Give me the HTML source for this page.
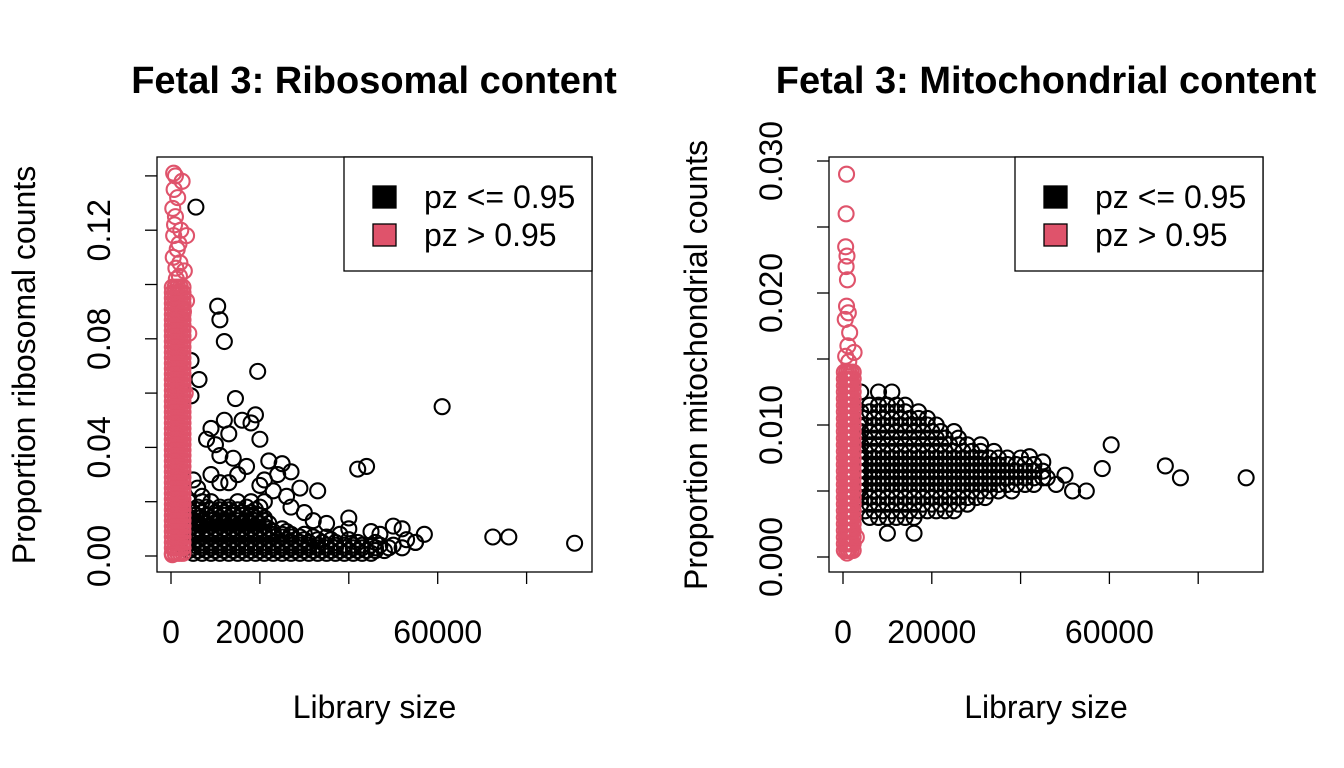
<!DOCTYPE html>
<html><head><meta charset="utf-8">
<style>
html,body{margin:0;padding:0;background:#fff;}
svg{display:block;font-family:"Liberation Sans",sans-serif;}
</style></head>
<body>
<svg id="chart" width="1344" height="768" viewBox="0 0 1344 768"></svg>
<script>
// ---------- DATA ----------
// Library size in thousands; rows: [proportion, [library sizes (k)...]]
const ribBlackRows = [
 [0.001,[5,7,9,11,13,15,17,19,21,23,25,27,29,31,33,35,37,39,41,43,45]],
 [0.002,[4,6,8,10,12,14,16,18,20,22,24,26,28,30,32,34,36,38,40,42,44,46,48]],
 [0.003,[3.2,5,7,9,11,13,15,17,19,21,23,25,27,29,31,33,35,37,39,41,43,46,49,52]],
 [0.004,[3.5,5,7,9,11,13,15,17,19,21,23,25,27,29,31,33,35,37,39,41,43,45,47,50]],
 [0.005,[3,5,7,9,11,13,15,17,19,21,23,25,27,29,31,34,37,42,46,55]],
 [0.006,[4,6,8,10,12,14,16,18,20,22,24,26,28,30,33,36,40]],
 [0.007,[3,5,7,9,11,13,15,17,19,21,23,25,27,29,32,35]],
 [0.008,[3.8,5.5,7,9,11,13,15,17,19,21,23,25,27,30]],
 [0.009,[3,5,7,9,11,13,15,17,19,21,23,26]],
 [0.010,[4,6,8,10,12,14,16,18,20,22,25]],
 [0.011,[3,5,7,9,11,13,15,17,19,21]],
 [0.012,[4,5.5,7.5,9.5,11.5,13.5,15.5,17.5,19.5,22]],
 [0.013,[3,5,7,9,11,13,15,17,19,21]],
 [0.014,[4.5,6.5,9,11,13,15,17,19,21]],
 [0.015,[3,5.5,8,10,12,14,16,18,20]],
 [0.016,[5,7,10,12,14,16,18]],
 [0.017,[4,6,9,11,13,15,19]],
 [0.018,[6,8,11,13,17,20]],
 [0.020,[4,7,9,15,18,21]]
];
const ribBlackX = [5.6,10.5,11,12,4.5,6.3,4.5,19.5,14.5,12,16,18,19,20,13,9,8,10,11,14,22,25,27,24,21,17,15,13,29,33,42,44,61,72.4,76,90.8,57,55,52,50,53,47,45,40,38,35,26,23,6,5,9,11,7,20,27,30,32,40];
const ribBlackY = [0.1285,0.092,0.087,0.079,0.072,0.065,0.059,0.068,0.058,0.05,0.05,0.049,0.052,0.043,0.045,0.047,0.043,0.041,0.037,0.036,0.035,0.034,0.031,0.03,0.028,0.033,0.03,0.027,0.025,0.024,0.032,0.033,0.055,0.007,0.007,0.0047,0.008,0.005,0.01,0.011,0.006,0.008,0.009,0.014,0.008,0.012,0.022,0.024,0.025,0.028,0.03,0.027,0.022,0.026,0.018,0.016,0.013,0.01];
const ribRedYs = [0.001,0.003,0.005,0.007,0.009,0.011,0.013,0.015,0.017,0.019,0.021,0.023,0.025,0.027,0.029,0.031,0.033,0.035,0.037,0.039,0.041,0.043,0.045,0.047,0.049,0.051,0.053,0.055,0.057,0.059,0.061,0.063,0.065,0.067,0.069,0.071,0.073,0.075,0.077,0.079,0.081,0.083,0.085,0.087,0.089,0.091,0.093,0.095,0.097,0.099];
const ribRedXs = [0.3,0.9,1.5,2.1,2.7];
const ribRedX = [0.6,1,2.5,0.7,1.5,0.4,2.2,3.5,1,1.8,0.5,2,3,1.2,3.5,2.8,4,3.2,0.3,2.5,0.8,1.4,1.1,0.6,1.9];
const ribRedY = [0.141,0.14,0.138,0.135,0.132,0.128,0.12,0.118,0.125,0.115,0.11,0.108,0.105,0.102,0.094,0.09,0.082,0.06,0.0005,0.02,0.122,0.113,0.106,0.118,0.103];

const mitoBlackRows = [
 [0.0030,[6,8,10,12,14,16]],
 [0.0035,[5,7,9,11,13,15,17,19,21,23,25]],
 [0.0040,[4,6,8,10,12,14,16,18,20,22,24,26,28]],
 [0.0045,[4,6,8,10,12,14,16,18,20,22,24,26,28,30,32]],
 [0.0050,[3.5,5,7,9,11,13,15,17,19,21,23,25,27,29,31,33,35,38]],
 [0.0055,[3.5,5,7,9,11,13,15,17,19,21,23,25,27,29,31,33,35,37,39,41,43]],
 [0.0060,[3.5,5,7,9,11,13,15,17,19,21,23,25,27,29,31,33,35,37,39,41,43,45]],
 [0.0065,[3.5,5,7,9,11,13,15,17,19,21,23,25,27,29,31,33,35,37,39,41,43,45]],
 [0.0070,[3.5,5,7,9,11,13,15,17,19,21,23,25,27,29,31,33,35,37,39,41,43]],
 [0.0075,[3.5,5,7,9,11,13,15,17,19,21,23,25,27,29,31,33,35,37,40]],
 [0.0080,[3.5,5,7,9,11,13,15,17,19,21,23,25,27,29,31,34]],
 [0.0085,[4,6,8,10,12,14,16,18,20,22,24,26,28,31]],
 [0.0090,[3.5,5,7,9,11,13,15,17,19,21,23,26]],
 [0.0095,[4,6,8,10,12,14,16,18,20,22,25]],
 [0.0100,[3.5,5,7,9,11,13,15,17,19,21]],
 [0.0105,[5,7,9,11,13,15,17,19]],
 [0.0110,[4,6,8,10,12,14,17]],
 [0.0115,[6,8,10,12,14]],
 [0.0125,[4,8,11]]
];
const mitoBlackX = [60.4,72.6,76,90.8,58.4,54.8,51.7,48,46,50,10,16,45,42];
const mitoBlackY = [0.0085,0.0069,0.006,0.006,0.0067,0.005,0.005,0.0055,0.006,0.0062,0.0018,0.0018,0.0072,0.0076];
const mitoRedYs = [0.0005,0.001,0.0015,0.002,0.0025,0.003,0.0035,0.004,0.0045,0.005,0.0055,0.006,0.0065,0.007,0.0075,0.008,0.0085,0.009,0.0095,0.01,0.0105,0.011,0.0115,0.012,0.0125,0.013,0.0135,0.014];
const mitoRedXs = [0.3,0.8,1.3,1.8,2.3];
const mitoRedX = [0.8,0.7,0.6,0.9,0.7,1,0.8,1.2,0.5,3,1.5,2.5,1.1,0.9,1.3,0.6];
const mitoRedY = [0.029,0.026,0.0235,0.0228,0.022,0.021,0.019,0.0185,0.018,0.0015,0.017,0.0155,0.016,0.0003,0.0148,0.0152];

const xTicks = [0,20000,40000,60000,80000];
const xTickLabels = ["0","20000","","60000",""];
const ribYTicks = [0,0.02,0.04,0.06,0.08,0.10,0.12,0.14];
const ribYTickLabels = ["0.00","","0.04","","0.08","","0.12",""];
const mitoYTicks = [0,0.005,0.01,0.015,0.02,0.025,0.03];
const mitoYTickLabels = ["0.000","","0.010","","0.020","","0.030"];

// ---------- DRAW ----------
const NS="http://www.w3.org/2000/svg";
const svg=document.getElementById('chart');
function mk(tag,attrs,parent){const e=document.createElementNS(NS,tag);for(const k in attrs)e.setAttribute(k,attrs[k]);(parent||svg).appendChild(e);return e;}
const RED="#DF536B";

function panel(cfg){
  const g=mk('g',{});
  
  
  const sx=v=>cfg.x0+(v/20000)*cfg.xs;
  const sy=v=>cfg.y0-v*cfg.ys;
  const t=mk('text',{x:cfg.tx,y:93,'text-anchor':'middle','font-size':38,'font-weight':'bold'},g);
  t.textContent=cfg.title;
  
  
  const pg=mk('g',{fill:'none','stroke-width':2.1},g);
  
  
  function pt(xk,y,col){
    const c=mk('circle',{cx:sx(xk*1000),cy:sy(y),r:7.5,stroke:col},pg);
    
    
  }
  cfg.blackRows.forEach(r=>r[1].forEach(x=>pt(x,r[0],'#000')));
  cfg.blackX.forEach((x,i)=>pt(x,cfg.blackY[i],'#000'));
  cfg.redYs.forEach(y=>cfg.redXs.forEach(x=>pt(x,y,RED)));
  cfg.redX.forEach((x,i)=>pt(x,cfg.redY[i],RED));
  const box=mk('rect',{x:cfg.bx0,y:157,width:cfg.bx1-cfg.bx0,height:572-157,fill:'none',stroke:'#000','stroke-width':1.3},g);
  
  
  const xa=mk('g',{stroke:'#000','stroke-width':1.3},g);
  
  
  xTicks.forEach((v,i)=>{
    mk('line',{x1:sx(v),x2:sx(v),y1:572,y2:584},xa);
    if(xTickLabels[i]){const l=mk('text',{x:sx(v),y:643,'text-anchor':'middle','font-size':32,stroke:'none',fill:'#000'},xa);l.textContent=xTickLabels[i];}
  });
  const xt=mk('text',{x:(cfg.bx0+cfg.bx1)/2,y:718,'text-anchor':'middle','font-size':32},g);
  xt.textContent='Library size';
  
  
  const ya=mk('g',{stroke:'#000','stroke-width':1.3},g);
  
  
  cfg.yTicks.forEach((v,i)=>{
    mk('line',{x1:cfg.bx0-12,x2:cfg.bx0,y1:sy(v),y2:sy(v)},ya);
    const lbl=cfg.yLabels[i];
    if(lbl){const l=mk('text',{x:0,y:0,transform:`translate(${cfg.bx0-47},${sy(v)}) rotate(-90)`,'text-anchor':'middle','font-size':32,stroke:'none',fill:'#000'},ya);l.textContent=lbl;}
  });
  const yt=mk('text',{x:0,y:0,transform:`translate(${cfg.bx0-122},365) rotate(-90)`,'text-anchor':'middle','font-size':32},g);
  yt.textContent=cfg.ylab;
  
  
  const lg=mk('g',{},g);
  
  
  const lx=cfg.bx1-248;
  mk('rect',{x:lx,y:157,width:248,height:114,fill:'#fff',stroke:'#000','stroke-width':1.3},lg);
  [['#000','pz <= 0.95',197],[RED,'pz > 0.95',235]].forEach(e=>{
    const en=mk('g',{},lg);
    
    
    mk('rect',{x:lx+29,y:e[2]-11,width:23,height:22,fill:e[0],stroke:'#000','stroke-width':1.3},en);
    const tx=mk('text',{x:lx+80,y:e[2]+11,'font-size':32},en);tx.textContent=e[1];
  });
}

panel({name:'ribosomal-panel',title:'Fetal 3: Ribosomal content',tx:374,x0:171,xs:88.9,y0:556,ys:2715,bx0:157,bx1:592,
  blackRows:ribBlackRows,blackX:ribBlackX,blackY:ribBlackY,redYs:ribRedYs,redXs:ribRedXs,redX:ribRedX,redY:ribRedY,
  yTicks:ribYTicks,yLabels:ribYTickLabels,ylab:'Proportion ribosomal counts'});
panel({name:'mitochondrial-panel',title:'Fetal 3: Mitochondrial content',tx:1046,x0:843,xs:88.8,y0:557,ys:13200,bx0:829,bx1:1263,
  blackRows:mitoBlackRows,blackX:mitoBlackX,blackY:mitoBlackY,redYs:mitoRedYs,redXs:mitoRedXs,redX:mitoRedX,redY:mitoRedY,
  yTicks:mitoYTicks,yLabels:mitoYTickLabels,ylab:'Proportion mitochondrial counts'});
</script>
</body></html>
